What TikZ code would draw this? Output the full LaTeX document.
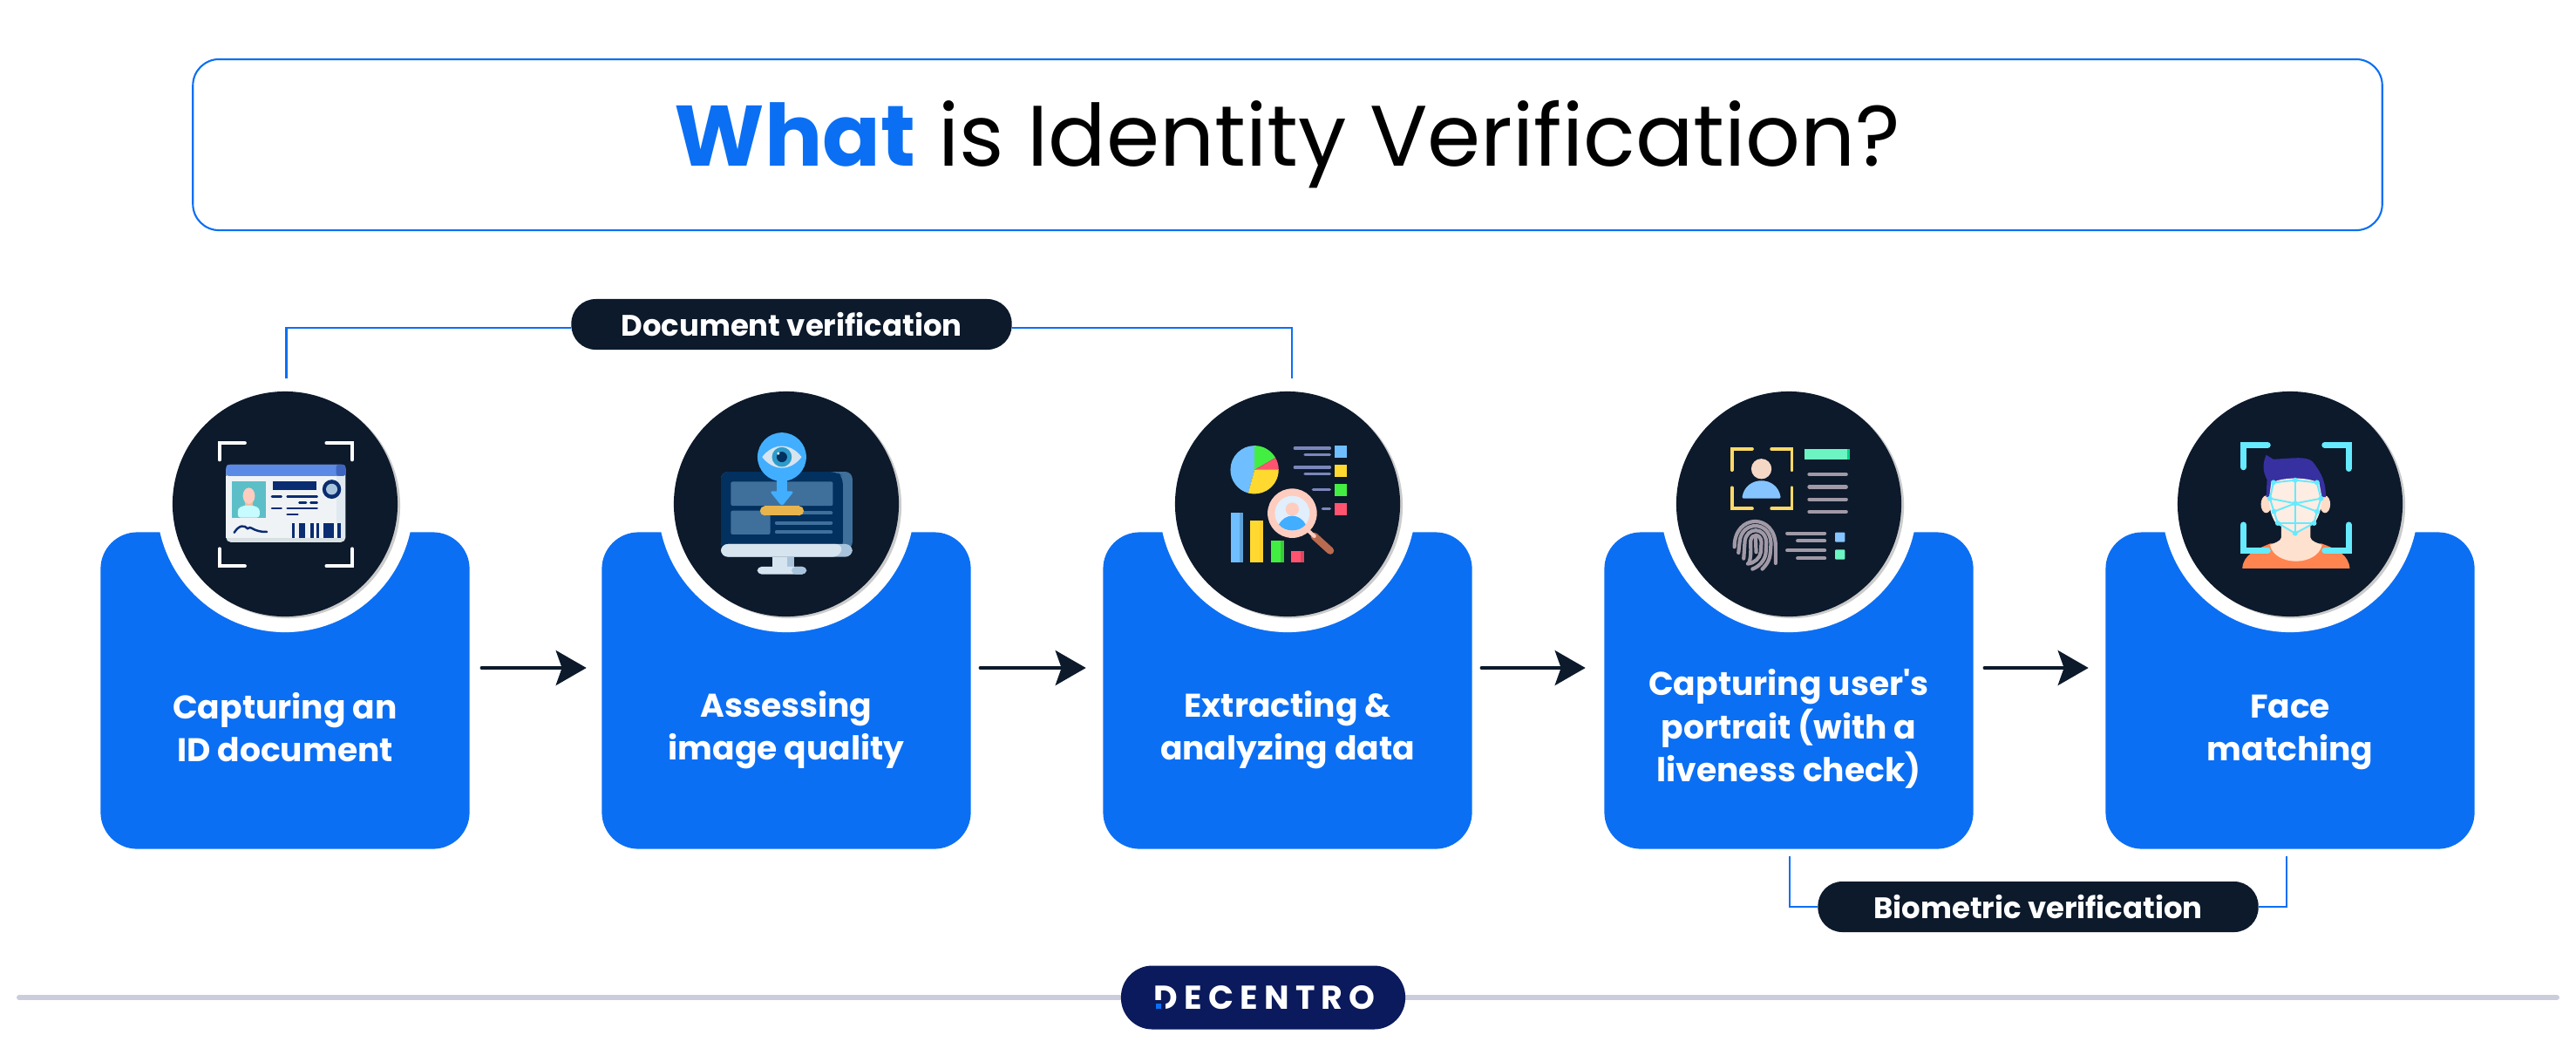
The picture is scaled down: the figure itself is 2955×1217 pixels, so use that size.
\documentclass[tikz,border=0pt]{standalone}
\usepackage{fontspec}
\setmainfont{Poppins}[Ligatures=TeXOff]
\newfontfamily\logofont[LetterSpace=19]{Poppins}
\usetikzlibrary{arrows.meta, positioning, calc}
\definecolor{MainBlue}{HTML}{0B6FF4}
\definecolor{InkDark}{HTML}{0C1A2B}
\definecolor{LogoNavy}{HTML}{0A1A5C}
\definecolor{RuleGrey}{HTML}{CCCDDC}
\definecolor{CardHead}{HTML}{5A8AE6}
\definecolor{CardHeadDark}{HTML}{3D65C0}
\definecolor{CardBody}{HTML}{EFF3F6}
\definecolor{CardShade}{HTML}{E0E9F0}
\definecolor{CardEdge}{HTML}{D9E0E4}
\definecolor{CardPhoto}{HTML}{5CBFC8}
\definecolor{CardShirt}{HTML}{C6FBFF}
\definecolor{CardNavy}{HTML}{0A2C70}
\definecolor{IconNavy}{HTML}{02305F}
\definecolor{IconSteel}{HTML}{3F709B}
\definecolor{IconPale}{HTML}{D6E4EF}
\definecolor{IconMist}{HTML}{A8C4DC}
\definecolor{IconSky}{HTML}{42AEFF}
\definecolor{IconIris}{HTML}{2E9CCB}
\definecolor{IconGold}{HTML}{E8B44E}
\definecolor{ChartBlue}{HTML}{6FBEFF}
\definecolor{ChartGreen}{HTML}{43EE43}
\definecolor{ChartRed}{HTML}{FF5370}
\definecolor{ChartYellow}{HTML}{FFD930}
\definecolor{ChartLine}{HTML}{7D86BB}
\definecolor{LensSkin}{HTML}{FFCDBF}
\definecolor{LensPale}{HTML}{E1EEFC}
\definecolor{LensHandle}{HTML}{B96B50}
\definecolor{ScanYellow}{HTML}{FFD966}
\definecolor{PortraitSkin}{HTML}{F5D7C5}
\definecolor{PortraitBlue}{HTML}{85C4FF}
\definecolor{PrintGrey}{HTML}{A199A6}
\definecolor{MintBar}{HTML}{6CF5C2}
\definecolor{MintDark}{HTML}{00D48A}
\definecolor{FaceCyan}{HTML}{66EAFF}
\definecolor{FaceSkin}{HTML}{FDEDE3}
\definecolor{NeckSkin}{HTML}{FFE1CF}
\definecolor{EarSkin}{HTML}{FFDCC8}
\definecolor{HairBlue}{HTML}{3730A0}
\definecolor{ShirtOrange}{HTML}{FF8450}
\tikzset{
    stepbox/.style={fill=MainBlue, minimum width=4.23cm, minimum height=3.63cm, rounded corners=.42cm, inner sep=0pt},
    steplabel/.style={text=white, align=center, font=\bfseries\fontsize{10.7}{14.1}\selectfont, inner sep=0pt},
    iconring/.style={circle, fill=white, minimum size=2.94cm, inner sep=0pt},
    iconshade/.style={circle, fill=black!20, minimum size=2.58cm, inner sep=0pt},
    iconcircle/.style={circle, fill=InkDark, minimum size=2.58cm, inner sep=0pt},
    tagpill/.style={fill=InkDark, text=white, minimum width=5.05cm, minimum height=.58cm, rounded corners=.28cm, inner sep=0pt, font=\bfseries\fontsize{9.65}{11}\selectfont},
    flowarrow/.style={-{Stealth[length=.35cm, width=.4cm, inset=.07cm]}, line width=1pt, line cap=round, InkDark},
    bracketline/.style={draw=MainBlue, line width=.6pt},
    iconbar/.style={line width=#1, line cap=round},
    iconbar/.default=1pt
}
\begin{document}
\begin{tikzpicture}[x=.01cm, y=-.01cm]
    \useasboundingbox (0,0) rectangle (2955,1217);

    \node[draw=MainBlue, line width=.6pt, minimum width=25.1cm, minimum height=1.96cm, rounded corners=.3cm, inner sep=0pt, font=\fontsize{28}{34}\selectfont] (titlebox) at (1477,166) {\textcolor{MainBlue}{\textbf{What}} is Identity Verification?};

    \node[stepbox] (box1) at (327,792) {};
    \node[stepbox] (box2) at (902,792) {};
    \node[stepbox] (box3) at (1477,792) {};
    \node[stepbox] (box4) at (2052,792) {};
    \node[stepbox] (box5) at (2627,792) {};

    \node[iconring] (ring1) at (327,578) {};
    \node[iconring] (ring2) at (902,578) {};
    \node[iconring] (ring3) at (1477,578) {};
    \node[iconring] (ring4) at (2052,578) {};
    \node[iconring] (ring5) at (2627,578) {};

    \node[iconshade] (shade1) at (330,580) {};
    \node[iconshade] (shade2) at (905,580) {};
    \node[iconshade] (shade3) at (1480,580) {};
    \node[iconshade] (shade4) at (2055,580) {};
    \node[iconshade] (shade5) at (2630,580) {};

    \node[iconcircle] (icon1) at (327,578) {};
    \node[iconcircle] (icon2) at (902,578) {};
    \node[iconcircle] (icon3) at (1477,578) {};
    \node[iconcircle] (icon4) at (2052,578) {};
    \node[iconcircle] (icon5) at (2627,578) {};

    \node[steplabel] (label1) at (327,834) {Capturing an\\ID document};
    \node[steplabel] (label2) at (902,837) {Assessing\\image quality};
    \node[steplabel] (label3) at (1477,837) {Extracting \&\\analyzing data};
    \node[steplabel] (label4) at (2052,836) {Capturing user's\\portrait (with a\\liveness check)};
    \node[steplabel] (label5) at (2627,840) {Face\\matching};

    \draw[flowarrow] ([xshift=.13cm, yshift=.26cm]box1.east) -- ([xshift=-.17cm, yshift=.26cm]box2.west);
    \draw[flowarrow] ([xshift=.10cm, yshift=.26cm]box2.east) -- ([xshift=-.19cm, yshift=.26cm]box3.west);
    \draw[flowarrow] ([xshift=.10cm, yshift=.26cm]box3.east) -- ([xshift=-.21cm, yshift=.26cm]box4.west);
    \draw[flowarrow] ([xshift=.12cm, yshift=.26cm]box4.east) -- ([xshift=-.19cm, yshift=.26cm]box5.west);

    % brackets and tags
    \coordinate (docleft) at (328.5,434);
    \coordinate (docright) at (1482,434);
    \coordinate (bioleft) at (2053,982);
    \coordinate (bioright) at (2623,982);
    \node[tagpill] (docpill) at (908,372) {Document verification};
    \node[tagpill] (biopill) at (2338,1040) {Biometric verification};
    \draw[bracketline] (docleft) |- ([yshift=-.04cm]docpill.west);
    \draw[bracketline] (docright) |- ([yshift=-.04cm]docpill.east);
    \draw[bracketline] (bioleft) |- (biopill.west);
    \draw[bracketline] (bioright) |- (biopill.east);

    % footer
    \coordinate (ruleleft) at (22,1144);
    \coordinate (ruleright) at (2933,1144);
    \draw[RuleGrey, line width=1.7pt, line cap=round] (ruleleft) -- (ruleright);
    \node[fill=LogoNavy, minimum width=3.26cm, minimum height=.73cm, rounded corners=.36cm, inner sep=0pt] (logo) at (1449,1144) {};
    \node[text=white, anchor=west, inner sep=0pt, font=\logofont\bfseries\fontsize{10.8}{12}\selectfont] (logotext) at (1323,1144) {DECENTRO};
    \fill[LogoNavy] (1322,1147) rectangle (1337,1162);
    \fill[MainBlue] (1326,1151) rectangle (1332,1157);

    % id card
    \begin{scope}[xshift=1cm, yshift=-3.3cm, x=.003827cm, y=-.004209cm]
        \draw[white, iconbar=1.1pt] (396,468) -- (396,422) -- (472,422);
        \draw[white, iconbar=1.1pt] (716,422) -- (793,422) -- (793,468);
        \draw[white, iconbar=1.1pt] (396,710) -- (396,757) -- (472,757);
        \draw[white, iconbar=1.1pt] (716,757) -- (793,757) -- (793,710);
        \fill[CardEdge, rounded corners=.05cm] (416,481) rectangle (773,692);
        \fill[CardBody] (416,512) rectangle (773,680);
        \fill[CardShade] (745,512) rectangle (773,680);
        \fill[CardHead, rounded corners=.03cm] (416,512) -- (416,481) -- (773,481) -- (773,512) -- cycle;
        \fill[CardHeadDark, rounded corners=.03cm] (745,512) -- (745,481) -- (773,481) -- (773,512) -- cycle;
        \fill[CardPhoto] (432,527) rectangle (534,625);
        \fill[LensSkin!75!brown] (472,575) rectangle (496,600);
        \fill[CardShirt, rounded corners=.03cm] (451,625) -- (451,600) -- (470,592) -- (497,592) -- (516,600) -- (516,625) -- cycle;
        \fill[LensSkin] (484,566) ellipse (18 and 22);
        \fill[CardNavy] (556,527) rectangle (686,549);
        \draw[CardNavy, iconbar=.7pt] (553,568) -- (581,568);
        \draw[CardNavy, iconbar=.7pt] (599,568) -- (688,568);
        \draw[CardNavy, iconbar=.7pt] (635,584) -- (655,584);
        \draw[CardNavy, iconbar=.7pt] (669,584) -- (688,584);
        \draw[CardNavy, iconbar=.7pt] (553,600) -- (581,600);
        \draw[CardNavy, iconbar=.7pt] (599,600) -- (688,600);
        \draw[CardNavy, iconbar=.7pt] (599,617) -- (630,617);
        \fill[CardNavy] (732,548) ellipse (28 and 26);
        \fill[IconMist] (732,548) ellipse (17 and 15);
        \draw[CardNavy, iconbar=.7pt] (440,666) .. controls (455,645) and (470,645) .. (480,655) .. controls (490,645) and (495,665) .. (538,664);
        \fill[CardNavy] (612,640) rectangle (622,681);
        \fill[CardNavy] (635,640) rectangle (653,681);
        \fill[CardNavy] (667,640) rectangle (678,681);
        \fill[CardNavy] (686,640) rectangle (695,681);
        \fill[CardNavy] (708,640) rectangle (738,681);
        \fill[CardNavy] (750,640) rectangle (760,681);
    \end{scope}

    % monitor
    \begin{scope}[xshift=7.7cm, yshift=-4.3cm, x=.003333cm, y=-.003333cm]
        \fill[IconSteel, rounded corners=.08cm] (170,333) rectangle (623,600);
        \fill[IconNavy, rounded corners=.08cm] (170,333) -- (570,333) -- (590,350) -- (590,600) -- (170,600) -- cycle;
        \fill[IconMist, rounded corners=.08cm] (170,582) -- (623,582) -- (623,626) -- (170,626) -- cycle;
        \fill[IconPale, rounded corners=.08cm] (170,582) -- (590,582) -- (580,626) -- (170,626) -- cycle;
        \fill[IconSteel, rounded corners=.02cm] (204,367) rectangle (556,450);
        \fill[IconSteel, rounded corners=.02cm] (204,467) rectangle (340,549);
        \draw[IconSteel, iconbar=1.2pt] (362,475) -- (549,475);
        \draw[IconSteel, iconbar=1.2pt] (362,509) -- (549,509);
        \draw[IconSteel, iconbar=1.2pt] (362,541) -- (549,541);
        \fill[IconPale] (347,626) rectangle (397,660);
        \fill[IconMist] (397,626) rectangle (423,660);
        \fill[IconPale, rounded corners=.05cm] (295,686) -- (295,660) -- (465,660) -- (465,686) -- cycle;
        \fill[IconMist, rounded corners=.05cm] (413,686) -- (413,660) -- (465,660) -- (465,686) -- cycle;
        \fill[IconSky] (362,350) rectangle (398,410);
        \fill[IconSky, rounded corners=.03cm] (338,400) -- (422,400) -- (380,452) -- cycle;
        \fill[IconGold] (321,451) rectangle (439,484);
        \fill[IconGold] (321,467.5) circle (16.5);
        \fill[IconGold] (439,467.5) circle (16.5);
        \fill[IconSky] (380,282) circle (84);
        \fill[IconPale] (312,282) .. controls (350,232) and (410,232) .. (448,282) .. controls (410,332) and (350,332) .. (312,282) -- cycle;
        \fill[IconIris] (380,282) circle (34);
        \fill[IconNavy] (380,282) circle (18);
        \fill[white] (368,270) circle (5);
    \end{scope}

    % chart
    \begin{scope}[xshift=12.6cm, yshift=-4.2cm, x=.003333cm, y=-.003333cm]
        \fill[ChartBlue] (536,356) -- (536,273) arc[start angle=90, end angle=255, radius=.2767cm] -- cycle;
        \fill[ChartGreen] (536,356) -- (536,273) arc[start angle=90, end angle=30, radius=.2767cm] -- cycle;
        \fill[ChartRed] (536,356) -- (608,315) arc[start angle=30, end angle=0, radius=.2767cm] -- cycle;
        \fill[ChartYellow] (536,356) -- (619,356) arc[start angle=0, end angle=-105, radius=.2767cm] -- cycle;
        \draw[ChartLine, iconbar=1pt] (675,282) -- (795,282);
        \draw[ChartLine, iconbar=1pt] (710,304) -- (795,304);
        \draw[ChartLine, iconbar=1pt] (675,348) -- (795,348);
        \draw[ChartLine, iconbar=1pt] (710,370) -- (795,370);
        \draw[ChartLine, iconbar=1pt] (738,425) -- (795,425);
        \draw[ChartLine, iconbar=1pt] (771,491) -- (795,491);
        \fill[ChartBlue] (813,272) rectangle (855,314);
        \fill[ChartYellow] (813,338) rectangle (855,380);
        \fill[ChartGreen] (813,405) rectangle (855,446);
        \fill[ChartRed] (813,471) rectangle (855,513);
        \fill[ChartBlue] (453,505) rectangle (498,675);
        \fill[ChartYellow] (522,532) rectangle (567,675);
        \fill[ChartGreen] (593,601) rectangle (638,675);
        \fill[ChartRed] (663,637) rectangle (708,675);
        \fill[ChartBlue!85!black] (485,505) rectangle (498,675);
        \fill[ChartYellow!88!orange] (555,532) rectangle (567,675);
        \fill[ChartGreen!85!black] (625,601) rectangle (638,675);
        \fill[ChartRed!85!black] (696,637) rectangle (708,675);
        \draw[LensHandle, iconbar=2.4pt] (742,585) -- (797,635);
        \draw[LensSkin, iconbar=1.2pt] (720,565) -- (742,585);
        \fill[LensSkin] (666,506) circle (85);
        \fill[LensPale] (666,506) circle (60);
        \fill[LensSkin] (666,492) circle (23);
        \fill[IconSky] (620,545) .. controls (640,505) and (692,505) .. (712,545) .. controls (690,572) and (642,572) .. (620,545) -- cycle;
    \end{scope}

    % portrait and fingerprint
    \begin{scope}[xshift=18.8cm, yshift=-4.3cm, x=.003333cm, y=-.003333cm]
        \draw[ScanYellow, iconbar=1.1pt] (317,327) -- (317,254) -- (387,254);
        \draw[ScanYellow, iconbar=1.1pt] (454,254) -- (524,254) -- (524,327);
        \draw[ScanYellow, iconbar=1.1pt] (317,388) -- (317,460) -- (387,460);
        \draw[ScanYellow, iconbar=1.1pt] (454,460) -- (524,460) -- (524,388);
        \fill[PortraitSkin] (419,323) circle (35);
        \fill[PortraitBlue, rounded corners=.02cm] (352,425) .. controls (365,345) and (473,345) .. (486,425) -- cycle;
        \fill[MintBar] (569,255) rectangle (725,291);
        \fill[MintDark] (716,255) rectangle (725,291);
        \draw[PrintGrey, iconbar=1.2pt] (584,342) -- (711,342);
        \draw[PrintGrey, iconbar=1.2pt] (584,385) -- (711,385);
        \draw[PrintGrey, iconbar=1.2pt] (584,428) -- (711,428);
        \draw[PrintGrey, iconbar=1.2pt] (584,471) -- (711,471);
        \draw[PrintGrey, iconbar=1.2pt] (326,592) .. controls (326,475) and (468,475) .. (468,590) -- (468,648);
        \draw[PrintGrey, iconbar=1.2pt] (340,612) -- (344,575) .. controls (350,500) and (450,500) .. (452,580) -- (450,610) .. controls (448,640) and (435,655) .. (422,668);
        \draw[PrintGrey, iconbar=1.2pt] (358,632) -- (362,572) .. controls (368,522) and (432,522) .. (436,575) -- (434,615) .. controls (430,640) and (410,660) .. (388,668);
        \draw[PrintGrey, iconbar=1.2pt] (374,650) .. controls (385,630) and (382,600) .. (382,570) .. controls (386,545) and (416,545) .. (419,575) -- (417,610) .. controls (414,630) and (395,648) .. (372,650);
        \draw[PrintGrey, iconbar=1.2pt] (399,562) -- (401,610);
        \draw[PrintGrey, iconbar=1.2pt] (508,545) -- (637,545);
        \draw[PrintGrey, iconbar=1.2pt] (544,571) -- (637,571);
        \draw[PrintGrey, iconbar=1.2pt] (508,604) -- (637,604);
        \draw[PrintGrey, iconbar=1.2pt] (544,631) -- (637,631);
        \fill[PortraitBlue, rounded corners=.01cm] (673,542) rectangle (707,575);
        \fill[MintBar, rounded corners=.01cm] (673,601) rectangle (707,635);
    \end{scope}

    % face scan
    \begin{scope}[xshift=24.6cm, yshift=-4.3cm, x=.003333cm, y=-.003333cm]
        \fill[ShirtOrange] (333,666) .. controls (335,620) and (380,600) .. (430,580) -- (605,580) .. controls (660,600) and (700,620) .. (703,666) -- cycle;
        \fill[NeckSkin] (467,500) -- (568,500) -- (568,560) .. controls (570,572) and (590,578) .. (608,585) .. controls (590,660) and (445,660) .. (428,585) .. controls (445,578) and (465,572) .. (467,560) -- cycle;
        \fill[EarSkin] (415,445) ellipse (18 and 30);
        \fill[EarSkin] (618,445) ellipse (18 and 30);
        \fill[HairBlue] (415,275) .. controls (400,310) and (405,335) .. (418,360) -- (415,420) -- (620,420) .. controls (622,370) and (605,335) .. (575,298) .. controls (555,280) and (520,285) .. (440,290) -- cycle;
        \fill[FaceSkin] (432,372) .. controls (470,350) and (560,350) .. (598,372) -- (608,425) .. controls (605,470) and (590,500) .. (580,512) -- (515,548) -- (450,512) .. controls (440,500) and (425,470) .. (425,425) -- cycle;
        \draw[FaceCyan, line width=.55pt] (440,370) -- (515,362) -- (590,370) -- (604,425) -- (590,470) -- (580,510) -- (515,545) -- (455,510) -- (442,470) -- (428,425) -- cycle;
        \draw[FaceCyan, line width=.55pt] (515,362) -- (515,545);
        \draw[FaceCyan, line width=.55pt] (428,425) -- (515,442) -- (604,425);
        \draw[FaceCyan, line width=.55pt] (442,470) -- (515,442) -- (590,470);
        \draw[FaceCyan, line width=.55pt] (455,510) -- (580,510);
        \fill[FaceCyan] (440,370) circle (9);
        \fill[FaceCyan] (515,362) circle (9);
        \fill[FaceCyan] (590,370) circle (9);
        \fill[FaceCyan] (428,425) circle (9);
        \fill[FaceCyan] (604,425) circle (9);
        \fill[FaceCyan] (515,442) circle (9);
        \fill[FaceCyan] (442,470) circle (9);
        \fill[FaceCyan] (590,470) circle (9);
        \fill[FaceCyan] (455,510) circle (9);
        \fill[FaceCyan] (580,510) circle (9);
        \fill[FaceCyan] (515,545) circle (9);
        \draw[FaceCyan, iconbar=2pt] (337,317) -- (337,241) -- (420,241);
        \draw[FaceCyan, iconbar=2pt] (617,241) -- (699,241) -- (699,322);
        \draw[FaceCyan, iconbar=2pt] (337,516) -- (337,604) -- (420,604);
        \draw[FaceCyan, iconbar=2pt] (617,604) -- (699,604) -- (699,516);
    \end{scope}
\end{tikzpicture}
\end{document}
